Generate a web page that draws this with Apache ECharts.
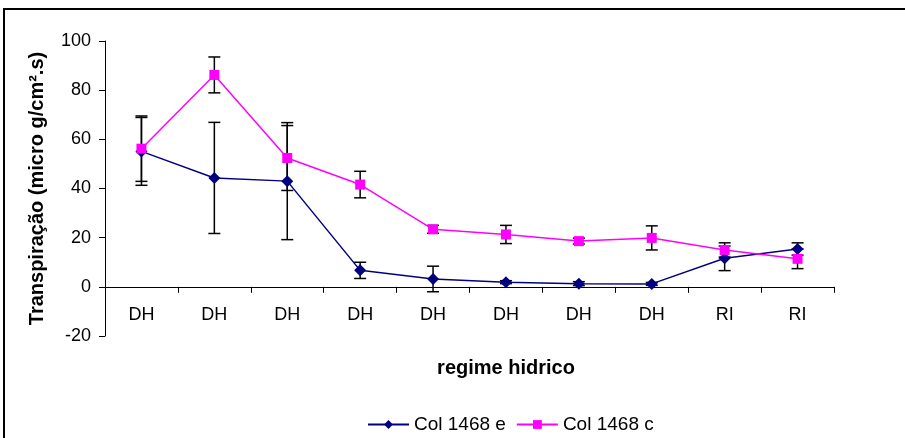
<!DOCTYPE html>
<html>
<head>
<meta charset="utf-8">
<script src="https://cdn.jsdelivr.net/npm/echarts@6/dist/echarts.min.js"></script>
<style>
  html, body {margin: 0; padding: 0; background: #fff;}
  #chart {width: 905px; height: 438px;}
</style>
</head>
<body>
<div id="chart"></div>
<script>
// regime hidrico categories
const categories = ["DH", "DH", "DH", "DH", "DH", "DH", "DH", "DH", "RI", "RI"];
const yTicks = {min: -20, max: 100, interval: 20};

const colE = [55.1, 44.3, 43.0, 6.7, 3.2, 1.9, 1.3, 1.2, 11.6, 15.4];
const errE = [13.8, 22.6, 23.8, 3.3, 5.2, 0.6, 0.8, 0.6, 5.0, 2.5];
const colC = [56.2, 86.2, 52.4, 41.6, 23.4, 21.3, 18.6, 19.9, 15.0, 11.4];
const errC = [13.3, 7.3, 13.2, 5.4, 1.6, 3.7, 1.2, 4.9, 2.9, 4.0];

const font = "Liberation Sans, Arial, sans-serif";

function errorData(values, errs) {
  return values.map((v, i) => [i, v - errs[i], v + errs[i]]);
}

function renderErrorBar(params, api) {
  const lo = api.coord([api.value(0), api.value(1)]);
  const hi = api.coord([api.value(0), api.value(2)]);
  const half = 6;
  const style = {stroke: "#000", lineWidth: 1.5, fill: null};
  return {
    type: "group",
    children: [
      {type: "line", shape: {x1: lo[0], y1: lo[1], x2: hi[0], y2: hi[1]}, style: style},
      {type: "line", shape: {x1: lo[0] - half, y1: lo[1], x2: lo[0] + half, y2: lo[1]}, style: style},
      {type: "line", shape: {x1: hi[0] - half, y1: hi[1], x2: hi[0] + half, y2: hi[1]}, style: style},
    ],
  };
}

const chart = echarts.init(document.getElementById("chart"), null, {renderer: "canvas"});

const option = {
  backgroundColor: "#fff",
  animation: false,
  textStyle: {fontFamily: font},
  grid: {left: 105, right: 71, top: 41, height: 295},
  legend: {
    left: 362,
    top: 410,
    itemWidth: 41,
    itemHeight: 11,
    itemGap: 10,
    textStyle: {fontSize: 19, color: "#000", fontFamily: font},
    data: ["Col 1468 e", "Col 1468 c"],
  },
  graphic: [
    {
      type: "rect",
      shape: {x: 4, y: 9, width: 1000, height: 1000},
      style: {fill: null, stroke: "#000", lineWidth: 2},
      silent: true,
    },
    {
      type: "text",
      x: 506,
      y: 368,
      style: {
        text: "regime hidrico",
        fontSize: 20,
        fontWeight: "bold",
        fontFamily: font,
        fill: "#000",
        align: "center",
        verticalAlign: "middle",
      },
    },
  ],
  xAxis: {
    type: "category",
    data: categories,
    boundaryGap: true,
    axisLine: {onZero: true, lineStyle: {color: "#000", width: 1}},
    axisTick: {show: true, interval: 0, length: 6, lineStyle: {color: "#000"}},
    axisLabel: {interval: 0, margin: -30, fontSize: 18, color: "#000", fontFamily: font},
    splitLine: {show: false},
  },
  yAxis: {
    type: "value",
    min: yTicks.min,
    max: yTicks.max,
    interval: yTicks.interval,
    name: "Transpiração (micro g/cm².s)",
    nameLocation: "middle",
    nameRotate: 90,
    nameGap: 58,
    nameTextStyle: {fontSize: 20, fontWeight: "bold", color: "#000", fontFamily: font},
    axisLine: {show: true, lineStyle: {color: "#000", width: 1}},
    axisTick: {show: true, length: 6, lineStyle: {color: "#000"}},
    axisLabel: {margin: 14, fontSize: 18, color: "#000", fontFamily: font},
    splitLine: {show: false},
  },
  series: [
    {
      name: "err e",
      type: "custom",
      renderItem: renderErrorBar,
      data: errorData(colE, errE),
      z: 1,
      silent: true,
    },
    {
      name: "err c",
      type: "custom",
      renderItem: renderErrorBar,
      data: errorData(colC, errC),
      z: 1,
      silent: true,
    },
    {
      name: "Col 1468 e",
      type: "line",
      data: colE,
      symbol: "diamond",
      symbolSize: 12,
      color: "#000080",
      lineStyle: {color: "#000080", width: 1.5},
      itemStyle: {color: "#000080"},
      z: 3,
    },
    {
      name: "Col 1468 c",
      type: "line",
      data: colC,
      symbol: "rect",
      symbolSize: 10,
      color: "#ff00ff",
      lineStyle: {color: "#ff00ff", width: 1.5},
      itemStyle: {color: "#ff00ff"},
      z: 4,
    },
  ],
};

chart.setOption(option);
</script>
</body>
</html>
